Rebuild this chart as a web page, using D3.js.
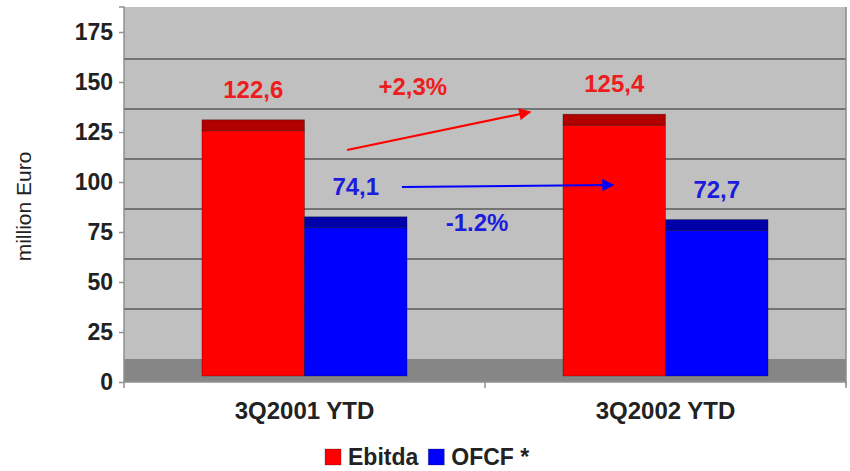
<!DOCTYPE html>
<html>
<head>
<meta charset="utf-8">
<script src="https://cdn.jsdelivr.net/npm/d3@7"></script>
<style>
  html, body { margin: 0; padding: 0; background: #fff; }
  svg { display: block; font-family: "Liberation Sans", Arial, sans-serif; }
</style>
</head>
<body>
<svg id="chart" width="850" height="471"></svg>
<script>
// Data
const categories = ["3Q2001 YTD", "3Q2002 YTD"];
const seriesNames = ["Ebitda", "OFCF *"];
const ebitda = [122.6, 125.4];
const ofcf = [74.1, 72.7];
const yTicks = [0, 25, 50, 75, 100, 125, 150, 175];
const changeLabels = ["+2,3%", "-1.2%"];
const axisTitle = "million Euro";

const seriesValues = [ebitda, ofcf];
const colors = ["#ff0000", "#0000ff"];
const topColors = ["#b00000", "#0000a8"];

const svg = d3.select("#chart");
const plot = { left: 124, right: 846, top: 7, bottom: 382 };

// 3D look: back wall offset and bar depth
const wallDepth = 23;   // back wall is shifted up
const barBase = 6;      // bar front face sits above the axis
const barTop = 11;      // visible top face

const y = d3.scaleLinear().domain([0, 175]).range([plot.bottom, plot.bottom - 350]);
const x0 = d3.scaleBand().domain(categories).range([plot.left, plot.right]).padding(0);
const groupW = x0.bandwidth() * 0.568;
const x1 = d3.scaleBand().domain(seriesNames).range([-groupW / 2, groupW / 2]).padding(0);
// continuous position across categories (0 = left edge, 1 = first boundary ...)
const xu = d3.scaleLinear().domain([0, categories.length]).range([plot.left, plot.right]);

// Wall
svg.append("rect")
  .attr("x", plot.left).attr("y", plot.top)
  .attr("width", plot.right - plot.left).attr("height", plot.bottom - plot.top)
  .attr("fill", "#c0c0c0");

// Floor
svg.append("rect")
  .attr("x", plot.left).attr("y", y(0) - wallDepth)
  .attr("width", plot.right - plot.left).attr("height", wallDepth)
  .attr("fill", "#868686");

// Gridlines on the back wall
svg.append("g").selectAll("line")
  .data(yTicks.filter(t => t > 0 && t < 175))
  .join("line")
  .attr("x1", plot.left).attr("x2", plot.right)
  .attr("y1", d => y(d) - wallDepth).attr("y2", d => y(d) - wallDepth)
  .attr("stroke", "#5a5a5a").attr("stroke-width", 1.5);

// Right edge of the wall
svg.append("line")
  .attr("x1", plot.right).attr("x2", plot.right)
  .attr("y1", plot.top).attr("y2", plot.bottom + 3)
  .attr("stroke", "#8a8a8a").attr("stroke-width", 1.5);

// Y axis
const yAxis = d3.axisLeft(y).tickValues(yTicks).tickSize(5).tickPadding(6);
const gy = svg.append("g").attr("transform", `translate(${plot.left},0)`).call(yAxis);
gy.select(".domain").attr("stroke", "#909090").attr("stroke-width", 1.5)
  .attr("d", `M-5,${plot.top}H0V${plot.bottom}`);
gy.selectAll(".tick line").attr("stroke", "#909090").attr("stroke-width", 1.5);
gy.selectAll(".tick text")
  .attr("font-size", 23).attr("font-weight", "bold").attr("fill", "#222")
  .attr("font-family", "Liberation Sans, Arial, sans-serif");

// X axis
const xAxis = d3.axisBottom(x0).tickSize(0).tickPadding(20);
const gx = svg.append("g").attr("transform", `translate(0,${plot.bottom})`).call(xAxis);
gx.select(".domain").attr("stroke", "#909090").attr("stroke-width", 1.5)
  .attr("d", `M${plot.left},0H${plot.right}`);
gx.selectAll(".tick text")
  .attr("font-size", 24).attr("font-weight", "bold").attr("fill", "#222")
  .attr("font-family", "Liberation Sans, Arial, sans-serif");
// category separators
gx.append("g").selectAll("line")
  .data(d3.range(categories.length + 1))
  .join("line")
  .attr("x1", d => xu(d)).attr("x2", d => xu(d))
  .attr("y1", 0).attr("y2", 6)
  .attr("stroke", "#909090").attr("stroke-width", 1.5);

// Bars
const bars = [];
categories.forEach((c, i) => {
  seriesNames.forEach((s, j) => {
    bars.push({ cat: c, series: s, si: j, value: seriesValues[j][i] });
  });
});

const gb = svg.append("g");
const bx = d => x0(d.cat) + x0.bandwidth() / 2 + x1(d.series);
gb.selectAll("rect.front")
  .data(bars).join("rect").attr("class", "front")
  .attr("x", bx)
  .attr("y", d => y(d.value) - barBase)
  .attr("width", x1.bandwidth())
  .attr("height", d => y(0) - y(d.value))
  .attr("fill", d => colors[d.si])
  .attr("stroke", "rgba(0,0,0,0.35)").attr("stroke-width", 0.8);
gb.selectAll("rect.top")
  .data(bars).join("rect").attr("class", "top")
  .attr("x", bx)
  .attr("y", d => y(d.value) - barBase - barTop)
  .attr("width", x1.bandwidth())
  .attr("height", barTop)
  .attr("fill", d => topColors[d.si])
  .attr("stroke", "rgba(0,0,0,0.35)").attr("stroke-width", 0.8);

// Value labels
const fmt = v => d3.format(".1f")(v).replace(".", ",");
svg.append("g").selectAll("text")
  .data(bars).join("text")
  .attr("x", d => bx(d) + x1.bandwidth() / 2)
  .attr("y", d => y(d.value) - barBase - barTop - 22)
  .attr("text-anchor", "middle")
  .attr("font-size", 24).attr("font-weight", "bold")
  .attr("fill", d => d.si === 0 ? "#ee1c1c" : "#1c1cdd")
  .text(d => fmt(d.value));

// Change annotations: arrows and percentage labels (positions in category units / values)
const arrows = [
  { si: 0, from: [0.618, 116], to: [1.125, 135] },
  { si: 1, from: [0.77, 97.5], to: [1.355, 98.5] }
];
const changePos = [[0.80, 143.5], [0.978, 75.5]];

const defs = svg.append("defs");
colors.forEach((c, i) => {
  defs.append("marker")
    .attr("id", "arrow" + i)
    .attr("viewBox", "0 0 10 10")
    .attr("refX", 9).attr("refY", 5)
    .attr("markerWidth", 6.5).attr("markerHeight", 5.5)
    .attr("markerUnits", "strokeWidth")
    .attr("orient", "auto")
    .append("path").attr("d", "M0,0L10,5L0,10Z").attr("fill", c);
});

svg.append("g").selectAll("line")
  .data(arrows).join("line")
  .attr("x1", d => xu(d.from[0])).attr("y1", d => y(d.from[1]))
  .attr("x2", d => xu(d.to[0])).attr("y2", d => y(d.to[1]))
  .attr("stroke", d => colors[d.si]).attr("stroke-width", 2.2)
  .attr("marker-end", d => `url(#arrow${d.si})`);

svg.append("g").selectAll("text")
  .data(changeLabels).join("text")
  .attr("x", (d, i) => xu(changePos[i][0]))
  .attr("y", (d, i) => y(changePos[i][1]))
  .attr("text-anchor", "middle")
  .attr("font-size", 24).attr("font-weight", "bold")
  .attr("fill", (d, i) => i === 0 ? "#ee1c1c" : "#1c1cdd")
  .text(d => d);

// Axis title
svg.append("text")
  .attr("transform", `translate(31,${(plot.top + plot.bottom) / 2 + 12}) rotate(-90)`)
  .attr("text-anchor", "middle")
  .attr("font-size", 21).attr("fill", "#222")
  .text(axisTitle);

// Legend
const legend = svg.append("g").attr("transform", "translate(325,449)");
let lx = 0;
seriesNames.forEach((s, i) => {
  const g = legend.append("g").attr("transform", `translate(${lx},0)`);
  g.append("rect").attr("width", 16).attr("height", 16).attr("fill", colors[i])
    .attr("stroke", "rgba(0,0,0,0.3)").attr("stroke-width", 0.8);
  const t = g.append("text").attr("x", 23).attr("y", 16)
    .attr("font-size", 23).attr("font-weight", "bold").attr("fill", "#222").text(s);
  lx += 23 + t.node().getComputedTextLength() + 10;
});
</script>
</body>
</html>
